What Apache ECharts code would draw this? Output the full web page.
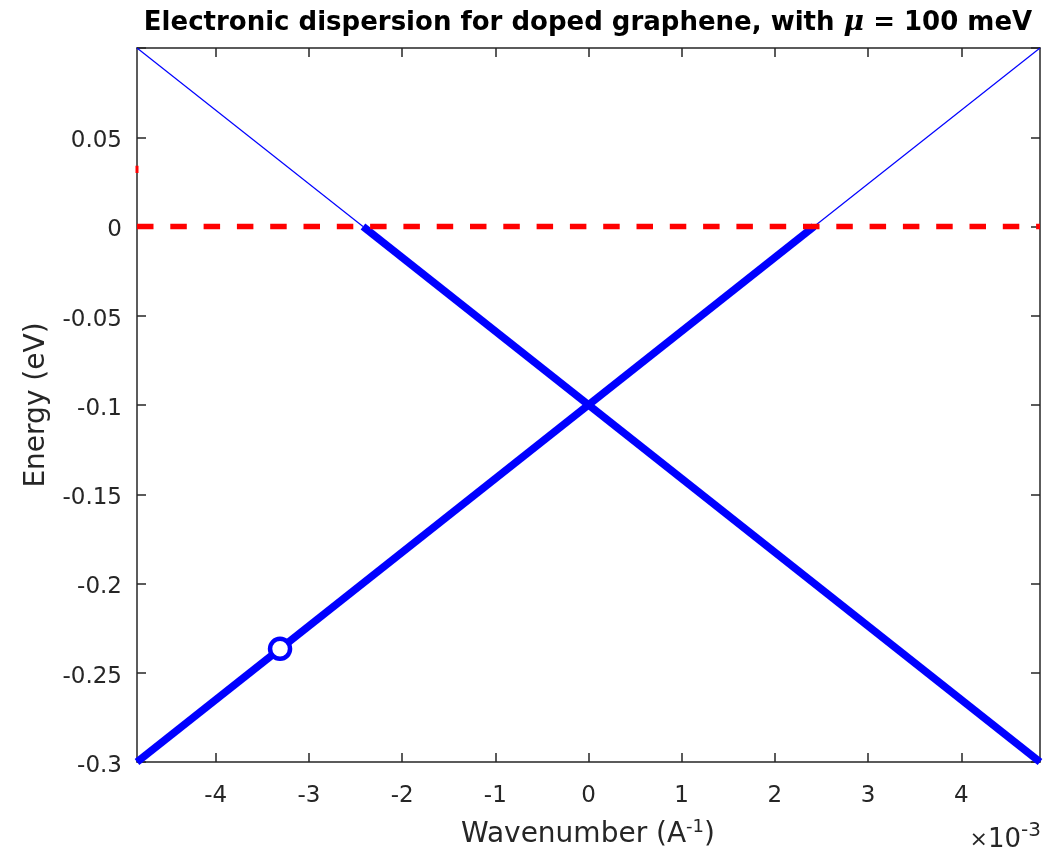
<!DOCTYPE html>
<html>
<head>
<meta charset="utf-8">
<script src="https://cdn.jsdelivr.net/npm/echarts@6/dist/echarts.min.js"></script>
<style>html,body{margin:0;padding:0;background:#fff;}#c{width:1059px;height:858px;}</style>
</head>
<body>
<div id="c"></div>
<script>
// ---- data (wavenumber in 1/Å, energy in eV) ----
const xRange = [-0.004845, 0.004845];
const yRange = [-0.3, 0.1];
const xTickValues = [-0.004, -0.003, -0.002, -0.001, 0, 0.001, 0.002, 0.003, 0.004];
const yTickValues = [-0.3, -0.25, -0.2, -0.15, -0.1, -0.05, 0, 0.05];
const yBoxTicks = [-0.3, -0.25, -0.2, -0.15, -0.1, -0.05, 0, 0.05, 0.1];
// empty (unoccupied) parts of the bands above the Fermi level
const upperLeftThin = [[-0.004845, 0.1], [-0.00242, 0]];
const upperRightThin = [[0.00242, 0], [0.004845, 0.1]];
// occupied parts
const bandDownThick = [[-0.00242, 0], [0.004845, -0.3]];
const bandUpThick = [[-0.004845, -0.3], [0.00242, 0]];
// Fermi level
const fermiLine = [[-0.004845, 0], [0.004845, 0]];
// small red mark on left edge
const edgeMark = [[-0.004845, 0.030], [-0.004845, 0.034]];
// hollow marker
const markerPoint = [[-0.00331, -0.2366]];

const FONT = 'DejaVu Sans';
const AX = '#262626';
const BLUE = '#0000ff';

const chart = echarts.init(document.getElementById('c'), null, {renderer: 'canvas'});

const boxAxisCommon = {
  type: 'value', min: xRange[0], max: xRange[1],
  axisLine: {show: true, onZero: false, lineStyle: {color: AX, width: 1.5}},
  splitLine: {show: false}
};

chart.setOption({
  animation: false,
  backgroundColor: '#fff',
  grid: {left: 137, right: 19, top: 48, bottom: 96, containLabel: false},
  xAxis: [
    Object.assign({}, boxAxisCommon, {
      position: 'bottom',
      axisTick: {show: true, inside: true, length: 9, customValues: xTickValues, lineStyle: {color: AX, width: 1.5}},
      axisLabel: {show: true, customValues: xTickValues, margin: 23, color: AX, fontFamily: FONT, fontSize: 23,
        formatter: v => String(Math.round(v * 1000))}
    }),
    Object.assign({}, boxAxisCommon, {
      position: 'top',
      axisTick: {show: true, inside: true, length: 9, customValues: xTickValues, lineStyle: {color: AX, width: 1.5}},
      axisLabel: {show: false}
    })
  ],
  yAxis: [
    {
      type: 'value', min: yRange[0], max: yRange[1], position: 'left',
      axisLine: {show: true, onZero: false, lineStyle: {color: AX, width: 1.5}},
      splitLine: {show: false},
      axisTick: {show: true, inside: true, length: 9, customValues: yBoxTicks, lineStyle: {color: AX, width: 1.5}},
      axisLabel: {show: true, customValues: yTickValues, margin: 15, color: AX, fontFamily: FONT, fontSize: 23,
        formatter: v => '{v|' + String(parseFloat(v.toFixed(2))) + '}',
        rich: {v: {fontFamily: FONT, fontSize: 23, color: AX, padding: [8, 0, 0, 0]}}}
    },
    {
      type: 'value', min: yRange[0], max: yRange[1], position: 'right',
      axisLine: {show: true, onZero: false, lineStyle: {color: AX, width: 1.5}},
      splitLine: {show: false},
      axisTick: {show: true, inside: true, length: 9, customValues: yBoxTicks, lineStyle: {color: AX, width: 1.5}},
      axisLabel: {show: false}
    }
  ],
  series: [
    {type: 'line', data: upperLeftThin, symbol: 'none', lineStyle: {color: BLUE, width: 1.2}, z: 2},
    {type: 'line', data: upperRightThin, symbol: 'none', lineStyle: {color: BLUE, width: 1.2}, z: 2},
    {type: 'line', data: bandDownThick, symbol: 'none', lineStyle: {color: BLUE, width: 7.5}, z: 3},
    {type: 'line', data: bandUpThick, symbol: 'none', lineStyle: {color: BLUE, width: 7.5}, z: 3},
    {type: 'line', data: fermiLine, symbol: 'none', lineStyle: {color: '#ff0000', width: 5.5, type: [16.5, 16.8], cap: 'butt'}, z: 4},
    {type: 'line', data: edgeMark, symbol: 'none', lineStyle: {color: '#ff0000', width: 3}, z: 4},
    {type: 'scatter', data: markerPoint, symbol: 'circle', symbolSize: 20,
      itemStyle: {color: '#ffffff', borderColor: BLUE, borderWidth: 4.5, opacity: 1}, z: 5}
  ],
  graphic: [
    {type: 'text', x: 588, y: 23, z: 10, style: {
      text: 'Electronic dispersion for doped graphene, with {mu|μ} = 100 meV',
      align: 'center', verticalAlign: 'middle',
      font: 'bold 26px "DejaVu Sans"', fill: '#000',
      rich: {mu: {fontFamily: 'DejaVu Serif', fontStyle: 'italic', fontWeight: 'bold', fontSize: 28, fill: '#000'}}
    }},
    {type: 'text', x: 588, y: 835, z: 10, style: {
      text: 'Wavenumber (A{sup|-1})',
      align: 'center', verticalAlign: 'middle',
      font: '28px "DejaVu Sans"', fill: AX,
      rich: {sup: {fontSize: 18, padding: [0, 0, 16, 0], fill: AX, fontFamily: FONT}}
    }},
    {type: 'text', x: 37, y: 405, rotation: Math.PI / 2, z: 10, style: {
      text: 'Energy (eV)',
      align: 'center', verticalAlign: 'middle',
      font: '28px "DejaVu Sans"', fill: AX
    }},
    {type: 'text', x: 1041, y: 840, z: 10, style: {
      text: '{x|×}10{sup|-3}',
      align: 'right', verticalAlign: 'middle',
      font: '26px "DejaVu Sans"', fill: AX,
      rich: {x: {fontSize: 22, fill: AX, fontFamily: FONT}, sup: {fontSize: 20, padding: [0, 0, 18, 0], fill: AX, fontFamily: FONT}}
    }}
  ]
});
</script>
</body>
</html>
